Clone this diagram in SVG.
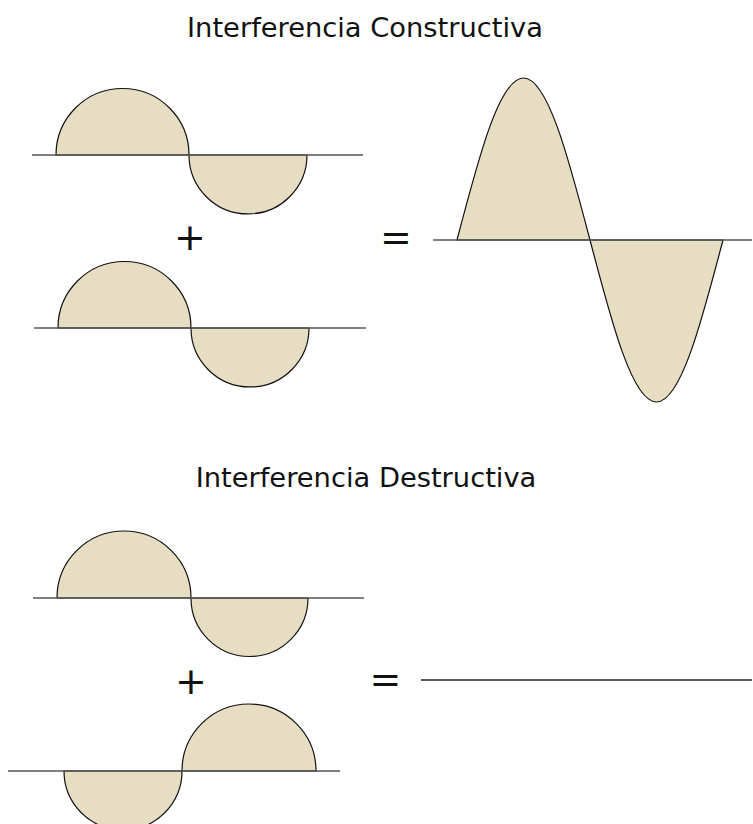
<svg xmlns="http://www.w3.org/2000/svg" width="753" height="824" viewBox="0 0 753 824">
<style>
.lobe{fill:#e7ddc3;stroke:#111;stroke-width:1.2}
.axis{stroke:#555;stroke-width:1.6;fill:none}
.title{font-family:"DejaVu Sans",Verdana,sans-serif;font-size:27.3px;fill:#111;text-anchor:middle}
.op{font-family:"DejaVu Sans",Verdana,sans-serif;font-size:38px;fill:#111;text-anchor:middle}
</style>
<rect width="753" height="824" fill="#fff"/>
<text class="title" x="365" y="37">Interferencia Constructiva</text>
<text class="title" x="366" y="487">Interferencia Destructiva</text>
<g id="wave1">
<path class="lobe" d="M56,155 A66.5,66.5 0 0 1 189,155 Z"/>
<path class="lobe" d="M189,155 A59,59 0 0 0 307,155 Z"/>
<line class="axis" x1="32" y1="155" x2="363" y2="155"/>
</g>
<g id="wave2">
<path class="lobe" d="M58,328 A66.5,66.5 0 0 1 191,328 Z"/>
<path class="lobe" d="M191,328 A59,59 0 0 0 309,328 Z"/>
<line class="axis" x1="34" y1="328" x2="366" y2="328"/>
</g>
<g id="result1">
<path class="lobe" d="M457,240 C478.69,157 499.44,78 523.5,78 C547.56,78 568.31,157 590,240 C611.69,323 632.44,402 656.5,402 C680.56,402 701.31,323 723,240 Z"/>
<line class="axis" x1="433" y1="240" x2="752" y2="240"/>
</g>
<g id="wave3">
<path class="lobe" d="M57,598 A67,67 0 0 1 191,598 Z"/>
<path class="lobe" d="M191,598 A58.5,58.5 0 0 0 308,598 Z"/>
<line class="axis" x1="33" y1="598" x2="364" y2="598"/>
</g>
<g id="wave4">
<path class="lobe" d="M64,771 A59,59 0 0 0 182,771 Z"/>
<path class="lobe" d="M182,771 A67,67 0 0 1 316,771 Z"/>
<line class="axis" x1="8" y1="771" x2="340" y2="771"/>
</g>
<g id="result2">
<line x1="421" y1="680" x2="752" y2="680" stroke="#222" stroke-width="1.5"/>
</g>
<g id="operators">
<text class="op" x="190" y="250">+</text>
<text class="op" x="396" y="250">=</text>
<text class="op" x="191" y="694">+</text>
<text class="op" x="385.5" y="692">=</text>
</g>
</svg>
